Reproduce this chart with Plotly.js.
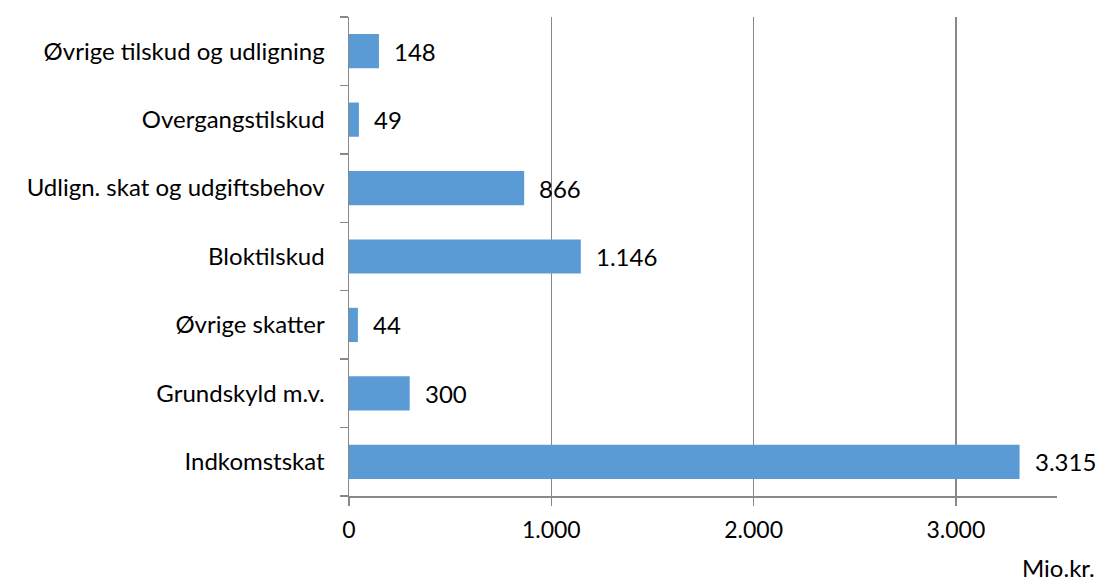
<!DOCTYPE html>
<html>
<head>
<meta charset="utf-8">
<script src="https://cdn.plot.ly/plotly-3.0.1.min.js"></script>
<style>html,body{margin:0;padding:0;background:#fff;}#chart{width:1101px;height:583px;}</style>
</head>
<body>
<div id="chart"></div>
<script>
const categories = ["Indkomstskat", "Grundskyld m.v.", "Øvrige skatter", "Bloktilskud", "Udlign. skat og udgiftsbehov", "Overgangstilskud", "Øvrige tilskud og udligning"];
const values = [3315, 300, 44, 1146, 866, 49, 148];
const xTicks = [0, 1000, 2000, 3000];
const unitLabel = "Mio.kr.";

function fmt(v) {
  return String(v).replace(/\B(?=(\d{3})+(?!\d))/g, ".");
}

const FONT = "Lato, 'Open Sans', sans-serif";

const trace = {
  type: "bar",
  orientation: "h",
  x: values,
  y: categories,
  marker: {color: "#5B9BD5"},
  width: 0.5,
  hoverinfo: "none"
};

const annotations = values.map((v, i) => ({
  x: v, y: categories[i], xref: "x", yref: "y",
  text: fmt(v), showarrow: false, xanchor: "left", yanchor: "middle",
  xshift: 13, font: {family: FONT, size: 24, color: "#000"}
}));
annotations.push({
  x: 1, y: 0, xref: "paper", yref: "paper", xanchor: "right", yanchor: "middle",
  xshift: 40, yshift: -71,
  text: unitLabel, showarrow: false, font: {family: FONT, size: 24, color: "#000"}
});

const layout = {
  width: 1101, height: 583,
  margin: {l: 349, r: 44, t: 17, b: 87},
  paper_bgcolor: "#fff", plot_bgcolor: "#fff",
  showlegend: false,
  font: {family: FONT, size: 24, color: "#000"},
  xaxis: {
    range: [0, 3500],
    tickvals: xTicks,
    ticktext: xTicks.map(fmt),
    showgrid: true, gridcolor: "#888", gridwidth: 1.3,
    zeroline: false,
    showline: true, linecolor: "#888", linewidth: 1.5,
    ticks: "outside", ticklen: 8, tickcolor: "#888", tickwidth: 1.5,
    ticklabelstandoff: 5,
    tickfont: {family: FONT, size: 23, color: "#000"},
    fixedrange: true
  },
  yaxis: {
    type: "category",
    categoryorder: "array", categoryarray: categories,
    range: [-0.5, 6.5],
    showline: true, linecolor: "#888", linewidth: 1.5,
    ticks: "outside", ticklen: 8, tickcolor: "#888", tickwidth: 1.5,
    tickson: "boundaries",
    showgrid: false, zeroline: false,
    ticklabelstandoff: 18,
    tickfont: {family: FONT, size: 24, color: "#000"},
    fixedrange: true
  },
  annotations: annotations
};

Plotly.newPlot("chart", [trace], layout, {displayModeBar: false, staticPlot: true});
</script>
</body>
</html>
